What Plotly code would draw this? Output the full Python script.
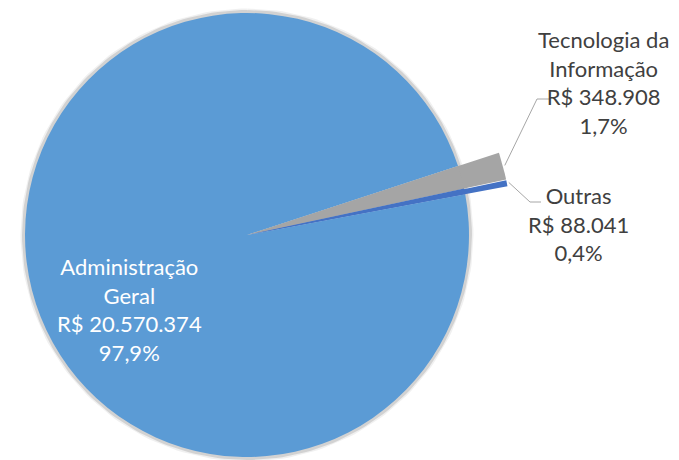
import numpy as np
import plotly.graph_objects as go

# ---- data ----
categories = ["Administração Geral", "Tecnologia da Informação", "Outras"]
label_lines = [["Administração", "Geral"], ["Tecnologia da", "Informação"], ["Outras"]]
values = [20570374, 348908, 88041]
colors = ["#5B9BD5", "#A5A5A5", "#4472C4"]

PAGE = 8                          # default body margin of the html page
W, H = 679 - PAGE, 460 - PAGE
CX, CY, R = 247 - PAGE, 235 - PAGE, 222   # main pie centre / radius (px)
R_OUT = 265                       # radius of exploded small slices
ROT = 79.4                        # start angle of first slice (clockwise from 12h)

vals = np.array(values, dtype=float)
fracs = vals / vals.sum()
starts = ROT + 360 * np.concatenate([[0], np.cumsum(fracs)[:-1]])
ends = starts + 360 * fracs

def fmt_money(v):
    return "R$ " + f"{v:,}".replace(",", ".")

def fmt_pct(f):
    return f"{f*100:.1f}%".replace(".", ",")

def pt(theta_deg, r):
    t = np.radians(theta_deg)
    return CX + r * np.sin(t), CY - r * np.cos(t)

fig = go.Figure()

# soft shadow ring under the pie
th_all = np.linspace(0, 360, 241)
sx, sy = pt(th_all, R + 1)
for wdt, alpha in ((7, 0.06), (4, 0.12)):
    fig.add_trace(go.Scatter(x=sx, y=sy, mode="lines",
                             line=dict(color=f"rgba(0,0,0,{alpha})", width=wdt),
                             hoverinfo="skip", showlegend=False))

# exploded extension of small slices (drawn in cartesian pixel space)
for i in (1, 2):
    th = np.linspace(starts[i], ends[i], 20)
    ax_, ay_ = pt(th, R_OUT)
    xs = np.concatenate([[CX], ax_, [CX]])
    ys = np.concatenate([[CY], ay_, [CY]])
    fig.add_trace(go.Scatter(x=xs, y=ys, fill="toself", fillcolor=colors[i],
                             mode="lines", line=dict(width=0, color=colors[i]),
                             hoverinfo="skip", showlegend=False))

# main pie
fig.add_trace(go.Pie(
    labels=categories, values=values, sort=False, direction="clockwise",
    rotation=ROT, marker=dict(colors=colors, line=dict(width=0)),
    textinfo="none", showlegend=False, hole=0,
    domain=dict(x=[(CX - R) / W, (CX + R) / W], y=[(H - CY - R) / H, (H - CY + R) / H]),
))

# leader lines from slice tips to labels
mid1 = (starts[1] + ends[1]) / 2
mid2 = (starts[2] + ends[2]) / 2
p1 = pt(mid1, R_OUT + 2)
p2 = pt(mid2, R_OUT + 2)
fig.add_trace(go.Scatter(x=[p1[0], 537 - PAGE, 549 - PAGE], y=[p1[1], 99 - PAGE, 99 - PAGE],
                         mode="lines", line=dict(color="#A6A6A6", width=1),
                         hoverinfo="skip", showlegend=False))
fig.add_trace(go.Scatter(x=[p2[0], 530 - PAGE, 541 - PAGE], y=[p2[1], 202 - PAGE, 202 - PAGE],
                         mode="lines", line=dict(color="#A6A6A6", width=1),
                         hoverinfo="skip", showlegend=False))

FONT = "Lato"
FS = 22
label_pos = [(129, 309, "white"), (603, 82, "#404040"), (578, 224, "#404040")]
for i in range(3):
    x, y, c = label_pos[i]
    txt = "<br>".join(label_lines[i] + [fmt_money(values[i]), fmt_pct(fracs[i])])
    fig.add_annotation(x=x - PAGE, y=y - PAGE, xref="x", yref="y", text=txt, showarrow=False,
                       xanchor="center", yanchor="middle", align="center",
                       font=dict(family=FONT, size=FS, color=c))

fig.update_layout(
    width=W, height=H, margin=dict(l=0, r=0, t=0, b=0),
    paper_bgcolor="white", plot_bgcolor="rgba(0,0,0,0)",
    xaxis=dict(range=[0, W], visible=False, fixedrange=True),
    yaxis=dict(range=[H, 0], visible=False, fixedrange=True),
)

fig.write_html("out.html")
